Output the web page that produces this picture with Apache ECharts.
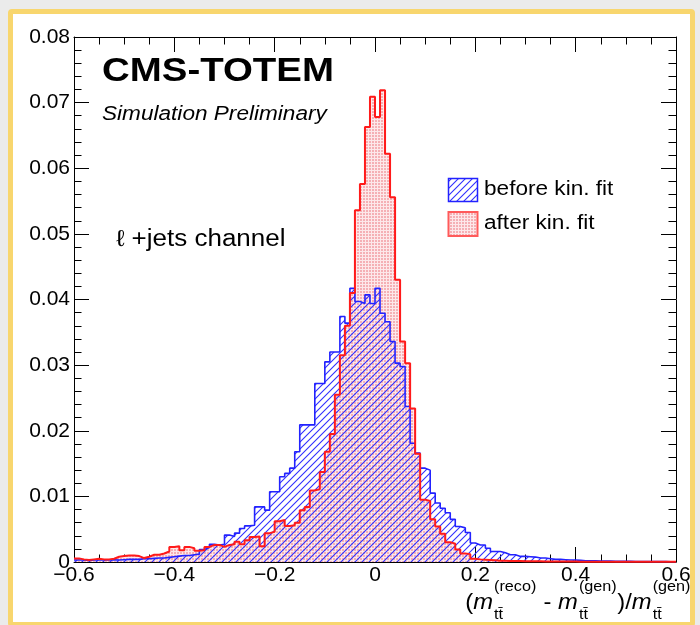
<!DOCTYPE html>
<html>
<head>
<meta charset="utf-8">
<script src="https://cdn.jsdelivr.net/npm/echarts/dist/echarts.min.js"></script>
<style>
  html, body { margin: 0; padding: 0; }
  body { width: 700px; height: 625px; overflow: hidden; background: #ebebeb; position: relative; }
  #frame { position: absolute; left: 8px; top: 9px; width: 687px; height: 618px; box-sizing: border-box;
           border: 5px solid #f8d66e; border-radius: 4px; background: #ffffff; }
  #chart { position: absolute; left: 0; top: 0; width: 700px; height: 625px; }
</style>
</head>
<body>
<div id="frame"></div>
<div id="chart"></div>
<script>
// Binning of both histograms: 120 bins of width 0.01 from -0.6 to 0.6
const binLow = -0.6;
const binWidth = 0.01;

// Normalised bin contents, reconstruction before the kinematic fit
const beforeFit = [
  0.00030, 0.00030, 0.00025, 0.00030, 0.00030, 0.00030, 0.00030, 0.00035, 0.00030, 0.00035,
  0.00040, 0.00040, 0.00040, 0.00050, 0.00050, 0.00055, 0.00060, 0.00060, 0.00070, 0.00080,
  0.00090, 0.00100, 0.00100, 0.00110, 0.00120, 0.00190, 0.00220, 0.00270, 0.00260, 0.00270,
  0.00410, 0.00390, 0.00440, 0.00510, 0.00550, 0.00560, 0.00840, 0.00840, 0.00790, 0.01070,
  0.01070, 0.01300, 0.01350, 0.01430, 0.01680, 0.02090, 0.02090, 0.02090, 0.02720, 0.02720,
  0.03050, 0.03200, 0.03200, 0.03740, 0.03640, 0.04170, 0.03970, 0.03940, 0.04070, 0.03940,
  0.04170, 0.03790, 0.03660, 0.03360, 0.03030, 0.02980, 0.02370, 0.01810, 0.01660, 0.01430,
  0.01400, 0.01050, 0.00900, 0.00820, 0.00750, 0.00650, 0.00540, 0.00520, 0.00450, 0.00290,
  0.00260, 0.00260, 0.00210, 0.00160, 0.00160, 0.00140, 0.00110, 0.00110, 0.00085, 0.00085,
  0.00080, 0.00075, 0.00060, 0.00060, 0.00050, 0.00040, 0.00040, 0.00035, 0.00030, 0.00030,
  0.00025, 0.00020, 0.00020, 0.00020, 0.00015, 0.00015, 0.00015, 0.00010, 0.00010, 0.00010,
  0.00010, 0.00008, 0.00008, 0.00008, 0.00006, 0.00006, 0.00005, 0.00005, 0.00004, 0.00004
];

// Normalised bin contents, reconstruction after the kinematic fit
const afterFit = [
  0.00055, 0.00040, 0.00030, 0.00040, 0.00050, 0.00040, 0.00040, 0.00050, 0.00080, 0.00090,
  0.00100, 0.00100, 0.00090, 0.00060, 0.00080, 0.00110, 0.00110, 0.00130, 0.00160, 0.00230,
  0.00240, 0.00180, 0.00230, 0.00210, 0.00170, 0.00180, 0.00230, 0.00260, 0.00260, 0.00230,
  0.00260, 0.00270, 0.00310, 0.00270, 0.00330, 0.00380, 0.00390, 0.00240, 0.00440, 0.00460,
  0.00620, 0.00640, 0.00550, 0.00560, 0.00600, 0.00790, 0.00840, 0.01090, 0.01110, 0.01370,
  0.01680, 0.01950, 0.02550, 0.03150, 0.03600, 0.04100, 0.05360, 0.05760, 0.06630, 0.07090,
  0.06780, 0.07190, 0.06220, 0.05560, 0.04300, 0.03360, 0.03030, 0.02340, 0.01650, 0.00950,
  0.00930, 0.00650, 0.00540, 0.00430, 0.00300, 0.00280, 0.00190, 0.00130, 0.00120, 0.00050,
  0.00040, 0.00035, 0.00030, 0.00025, 0.00020, 0.00020, 0.00015, 0.00015, 0.00015, 0.00010,
  0.00010, 0.00010, 0.00010, 0.00008, 0.00008, 0.00008, 0.00007, 0.00007, 0.00006, 0.00006,
  0.00005, 0.00005, 0.00005, 0.00005, 0.00005, 0.00005, 0.00005, 0.00005, 0.00005, 0.00005,
  0.00004, 0.00004, 0.00004, 0.00004, 0.00004, 0.00004, 0.00004, 0.00004, 0.00004, 0.00004
];

// Axis tick labels
const xTickValues = [-0.6, -0.4, -0.2, 0, 0.2, 0.4, 0.6];
const xTickLabels = ['\u22120.6', '\u22120.4', '\u22120.2', '0', '0.2', '0.4', '0.6'];
const yTickValues = [0, 0.01, 0.02, 0.03, 0.04, 0.05, 0.06, 0.07, 0.08];
const yTickLabels = ['0', '0.01', '0.02', '0.03', '0.04', '0.05', '0.06', '0.07', '0.08'];

// Legend entries
const legendNames = ['before kin. fit', 'after kin. fit'];

const FONT = '"Liberation Sans", Arial, Helvetica, sans-serif';
const STRETCH = 1.13;

function lookupLabel(values, labels, v) {
  for (let i = 0; i < values.length; i++) {
    if (Math.abs(values[i] - v) < 1e-9) return labels[i];
  }
  return '';
}

// Step outline points at the bin edges (held until the next edge)
function stepData(vals) {
  const pts = vals.map((v, i) => [+(binLow + i * binWidth).toFixed(4), v]);
  pts.push([+(binLow + vals.length * binWidth).toFixed(4), vals[vals.length - 1]]);
  return pts;
}

// Fill patterns: diagonal blue hatching and fine pink dots
function hatchTile() {
  const s = 7;
  const c = document.createElement('canvas');
  c.width = s; c.height = s;
  const g = c.getContext('2d');
  g.strokeStyle = '#3030ff';
  g.lineWidth = 1.1;
  g.beginPath();
  g.moveTo(-2, s + 2); g.lineTo(s + 2, -2);
  g.moveTo(-2, 2); g.lineTo(2, -2);
  g.moveTo(s - 2, s + 2); g.lineTo(s + 2, s - 2);
  g.stroke();
  return c;
}
function dotTile() {
  const c = document.createElement('canvas');
  c.width = 3; c.height = 3;
  const g = c.getContext('2d');
  g.fillStyle = '#fde8ea';
  g.fillRect(0, 0, 3, 3);
  g.fillStyle = '#f5b0b5';
  g.fillRect(0, 0, 2, 2);
  return c;
}
const hatchFill = { image: hatchTile(), repeat: 'repeat' };
const dotFill = { image: dotTile(), repeat: 'repeat' };

// Axis title pieces: (m_tt^(reco) - m_tt^(gen))/m_tt^(gen)
function buildAxisTitle() {
  const mainSize = 22, scriptSize = 15;
  const mainFont = mainSize + 'px ' + FONT;
  const italFont = 'italic ' + mainSize + 'px ' + FONT;
  const scrFont = scriptSize + 'px ' + FONT;
  const meas = document.createElement('canvas').getContext('2d');
  const w = (t, f) => { meas.font = f; return meas.measureText(t).width; };
  const mainY = 603, supY = 587, subY = 615;
  const parts = [];
  let cx = 0;
  const put = (t, f) => { parts.push({ t, f, x: cx, y: mainY }); cx += w(t, f); };
  const scripts = (sup, sub) => {
    parts.push({ t: sup, f: scrFont, x: cx + 1, y: supY });
    parts.push({ t: sub, f: scrFont, x: cx + 1, y: subY });
    cx += Math.max(w(sup, scrFont), w(sub, scrFont)) + 1.5;
  };
  const tt = 'tt\u0304';
  put('(', mainFont); put('m', italFont); scripts('(reco)', tt);
  put(' - ', mainFont);
  put('m', italFont); scripts('(gen)', tt);
  put(')/', mainFont);
  put('m', italFont); scripts('(gen)', tt);
  const total = cx;
  return {
    type: 'group', x: 691, y: 0, scaleX: 1.08, originX: 0,
    children: parts.map(p => ({
      type: 'text', x: p.x - total, y: p.y,
      style: { text: p.t, font: p.f, fill: '#000', align: 'left', verticalAlign: 'middle' }
    }))
  };
}

function stretchedText(txt, x, y, font) {
  return {
    type: 'text', x: x, y: y, scaleX: STRETCH,
    style: { text: txt, font: font, fill: '#000', align: 'left', verticalAlign: 'middle' }
  };
}

const tickCommon = {
  axisLine: { show: true, onZero: false, lineStyle: { color: '#000', width: 1 } },
  axisTick: { show: true, inside: true, length: 15, lineStyle: { color: '#000', width: 1 } },
  splitLine: { show: false }
};

const chart = echarts.init(document.getElementById('chart'), null, { renderer: 'canvas' });
chart.setOption({
  animation: false,
  backgroundColor: 'transparent',
  grid: { left: 74, top: 37, width: 602, height: 525, containLabel: false },
  xAxis: [
    Object.assign({
      type: 'value', min: -0.6, max: 0.6, interval: 0.2, position: 'bottom',
      minorTick: { show: true, splitNumber: 4, length: 7.5, lineStyle: { color: '#000', width: 1 } },
      axisLabel: { show: true, margin: 3, fontSize: 21, fontFamily: FONT, color: '#000',
                   formatter: v => lookupLabel(xTickValues, xTickLabels, v) }
    }, tickCommon),
    Object.assign({
      type: 'value', min: -0.6, max: 0.6, interval: 0.2, position: 'top',
      minorTick: { show: true, splitNumber: 4, length: 7.5, lineStyle: { color: '#000', width: 1 } },
      axisLabel: { show: false }
    }, tickCommon)
  ],
  yAxis: [
    Object.assign({
      type: 'value', min: 0, max: 0.08, interval: 0.01, position: 'left',
      minorTick: { show: true, splitNumber: 5, length: 7.5, lineStyle: { color: '#000', width: 1 } },
      axisLabel: { show: true, margin: 4, fontSize: 21, fontFamily: FONT, color: '#000',
                   formatter: v => lookupLabel(yTickValues, yTickLabels, v) }
    }, tickCommon),
    Object.assign({
      type: 'value', min: 0, max: 0.08, interval: 0.01, position: 'right',
      minorTick: { show: true, splitNumber: 5, length: 7.5, lineStyle: { color: '#000', width: 1 } },
      axisLabel: { show: false }
    }, tickCommon)
  ],
  series: [
    { name: legendNames[1], type: 'line', step: 'end', data: stepData(afterFit), symbol: 'none',
      xAxisIndex: 0, yAxisIndex: 0, lineStyle: { opacity: 0 }, areaStyle: { color: dotFill, opacity: 1 }, z: 1, silent: true },
    { name: legendNames[0], type: 'line', step: 'end', data: stepData(beforeFit), symbol: 'none',
      xAxisIndex: 0, yAxisIndex: 0, lineStyle: { opacity: 0 }, areaStyle: { color: hatchFill, opacity: 1 }, z: 2, silent: true },
    { name: legendNames[0] + ' outline', type: 'line', step: 'end', data: stepData(beforeFit), symbol: 'none',
      xAxisIndex: 0, yAxisIndex: 0, lineStyle: { color: '#2222ff', width: 1.6 }, z: 3, silent: true },
    { name: legendNames[1] + ' outline', type: 'line', step: 'end', data: stepData(afterFit), symbol: 'none',
      xAxisIndex: 0, yAxisIndex: 0, lineStyle: { color: '#ff1a1a', width: 2 }, z: 4, silent: true }
  ],
  graphic: [
    stretchedText('CMS-TOTEM', 102, 72, 'bold 34px ' + FONT),
    stretchedText('Simulation Preliminary', 102, 114, 'italic 20px ' + FONT),
    stretchedText('\u2113 +jets channel', 116, 240, '23px ' + FONT),
    { type: 'rect', shape: { x: 448.5, y: 178.5, width: 29, height: 23 },
      style: { fill: hatchFill, stroke: '#2222ff', lineWidth: 1.5 } },
    { type: 'rect', shape: { x: 448.5, y: 212, width: 29, height: 24 },
      style: { fill: dotFill, stroke: '#ff5a5a', lineWidth: 2 } },
    stretchedText(legendNames[0], 484, 189.5, '20px ' + FONT),
    stretchedText(legendNames[1], 484, 223, '20px ' + FONT),
    buildAxisTitle()
  ]
});
</script>
</body>
</html>
